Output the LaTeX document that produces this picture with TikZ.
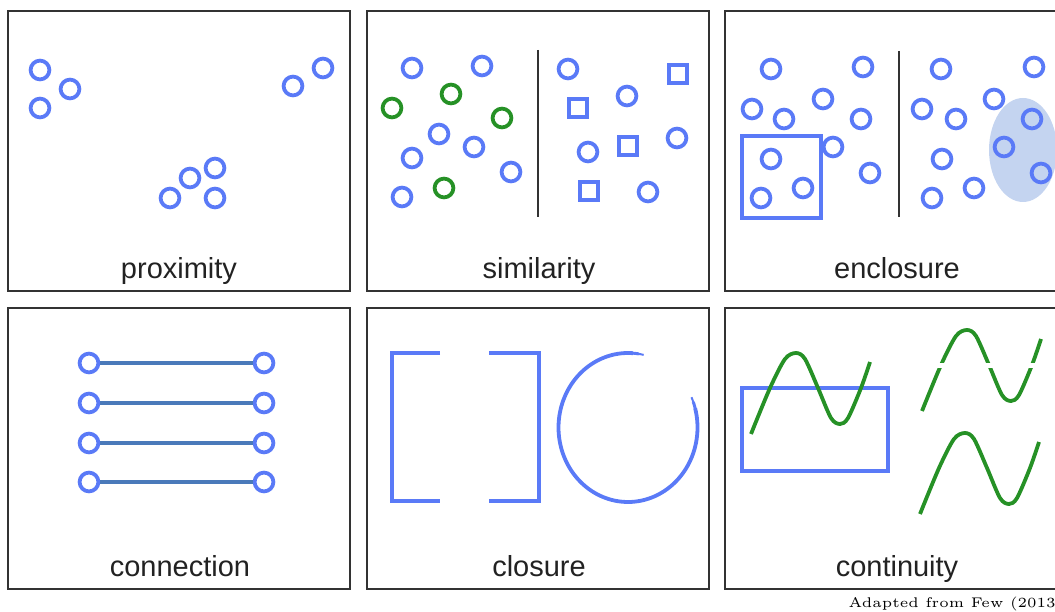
\documentclass[tikz,border=0pt]{standalone}
\usepackage{fontspec}
\newfontfamily\labelfont{Liberation Sans}
\definecolor{dotblue}{RGB}{90,122,247}
\definecolor{dotgreen}{RGB}{38,145,38}
\definecolor{linkblue}{RGB}{74,122,186}
\definecolor{blobblue}{RGB}{196,212,240}
\definecolor{framegray}{RGB}{51,51,51}
\definecolor{textgray}{RGB}{34,34,34}
\begin{document}
\begin{tikzpicture}[x=1pt,y=-1pt,
  dot/.style={circle, draw=dotblue, line width=3.8pt, minimum size=18.8pt, inner sep=0pt},
  gdot/.style={dot, draw=dotgreen},
  sq/.style={rectangle, draw=dotblue, line width=3.8pt, minimum size=17.8pt, inner sep=0pt},
  frame/.style={draw=framegray, line width=1.3pt},
  divider/.style={draw=framegray, line width=1.8pt},
  lbl/.style={font=\labelfont\fontsize{29}{34}\selectfont, text=textgray, anchor=base, inner sep=0pt},
  link/.style={draw=linkblue, line width=4pt},
  blueline/.style={draw=dotblue, line width=3.8pt},
  waveline/.style={draw=dotgreen, line width=3.8pt},
  wave/.pic={\draw[waveline] plot[smooth, tension=0.5] coordinates {(0,0) (19,-46) (34,-75) (45,-81) (54,-75) (67,-46) (80,-16) (89,-10) (97,-16) (110,-46) (119,-72)};}
]
\useasboundingbox (0,0) rectangle (1055,612);
\clip (0,0) rectangle (1055,612);

% frames
\draw[frame] (8,11) rectangle (350,291);
\draw[frame] (367,11) rectangle (709,291);
\draw[frame] (725,11) rectangle (1067,291);
\draw[frame] (8,308) rectangle (350,589);
\draw[frame] (367,308) rectangle (709,589);
\draw[frame] (725,308) rectangle (1067,589);

% labels
\node[lbl] (lprox) at (179,279) {proximity};
\node[lbl] (lsim) at (539,279) {similarity};
\node[lbl] (lenc) at (897,279) {enclosure};
\node[lbl] (lcon) at (180,576) {connection};
\node[lbl] (lclo) at (539,576) {closure};
\node[lbl] (lcnt) at (897,576) {continuity};

% proximity
\node[dot] (p1) at (40,70) {};
\node[dot] (p2) at (70,89) {};
\node[dot] (p3) at (40,108) {};
\node[dot] (p4) at (293,86) {};
\node[dot] (p5) at (323,68) {};
\node[dot] (p6) at (215,168) {};
\node[dot] (p7) at (190,178) {};
\node[dot] (p8) at (170,198) {};
\node[dot] (p9) at (215,198) {};

% similarity
\node[dot] (s1) at (412,68) {};
\node[dot] (s2) at (482,66) {};
\node[dot] (s3) at (439,134) {};
\node[dot] (s4) at (474,147) {};
\node[dot] (s5) at (412,158) {};
\node[dot] (s6) at (511,172) {};
\node[dot] (s7) at (402,197) {};
\node[gdot] (g1) at (451,94) {};
\node[gdot] (g2) at (392,108) {};
\node[gdot] (g3) at (502,118) {};
\node[gdot] (g4) at (444,188) {};
\draw[divider] (538,50) -- (538,217);
\node[dot] (s8) at (568,69) {};
\node[dot] (s9) at (627,96) {};
\node[dot] (s10) at (588,152) {};
\node[dot] (s11) at (677,138) {};
\node[dot] (s12) at (648,192) {};
\node[sq] (q1) at (678,74) {};
\node[sq] (q2) at (578,108) {};
\node[sq] (q3) at (628,146) {};
\node[sq] (q4) at (589,191) {};

% enclosure
\fill[blobblue] (1023,150) ellipse [x radius=34pt, y radius=52pt];
\node[dot] (e1) at (771,69) {};
\node[dot] (e2) at (863,67) {};
\node[dot] (e3) at (752,109) {};
\node[dot] (e4) at (784,119) {};
\node[dot] (e5) at (823,99) {};
\node[dot] (e6) at (861,119) {};
\node[dot] (e7) at (833,147) {};
\node[dot] (e8) at (870,173) {};
\node[dot] (e9) at (771,159) {};
\node[dot] (e10) at (803,188) {};
\node[dot] (e11) at (761,198) {};
\draw[blueline] (742,136) rectangle (821,218);
\draw[divider] (899,51) -- (899,217);
\node[dot] (f1) at (941,69) {};
\node[dot] (f2) at (1034,67) {};
\node[dot] (f3) at (922,109) {};
\node[dot] (f4) at (956,119) {};
\node[dot] (f5) at (994,99) {};
\node[dot] (f6) at (1032,119) {};
\node[dot] (f7) at (1004,147) {};
\node[dot] (f8) at (1041,173) {};
\node[dot] (f9) at (942,159) {};
\node[dot] (f10) at (974,188) {};
\node[dot] (f11) at (932,198) {};

% connection
\node[dot] (ca1) at (89,363) {};
\node[dot] (cb1) at (264,363) {};
\node[dot] (ca2) at (89,403) {};
\node[dot] (cb2) at (264,403) {};
\node[dot] (ca3) at (89,443) {};
\node[dot] (cb3) at (264,443) {};
\node[dot] (ca4) at (89,482) {};
\node[dot] (cb4) at (264,482) {};
\draw[link] (ca1) -- (cb1);
\draw[link] (ca2) -- (cb2);
\draw[link] (ca3) -- (cb3);
\draw[link] (ca4) -- (cb4);

% closure
\draw[blueline] (440,353) -- (392,353) -- (392,501) -- (440,501);
\draw[blueline] (489,353) -- (539,353) -- (539,501) -- (489,501);
\draw[blueline] plot[domain=86:375, samples=120, smooth] ({628+69.5*cos(\x)}, {427.5-74.5*sin(\x)});
\draw[blueline, line width=3pt] plot[domain=81:86.5, samples=6, smooth] ({628+69.5*cos(\x)}, {427.5-74.5*sin(\x)});
\draw[blueline, line width=2pt] plot[domain=77:81.5, samples=5, smooth] ({628+69.5*cos(\x)}, {427.5-74.5*sin(\x)});
\draw[blueline, line width=3pt] plot[domain=374.5:380, samples=6, smooth] ({628+69.5*cos(\x)}, {427.5-74.5*sin(\x)});
\draw[blueline, line width=2pt] plot[domain=379.5:384, samples=5, smooth] ({628+69.5*cos(\x)}, {427.5-74.5*sin(\x)});

% continuity
\draw[blueline] (742,388) rectangle (888,471);
\pic at (751,434) {wave};
\pic at (922,411) {wave};
\draw[white, line width=5pt] (930,365) -- (1050,365);
\pic at (920,514) {wave};

% caption
\node[anchor=base west, inner sep=0pt, font=\fontsize{5}{6}\selectfont, scale=2.8] (cap) at (848,607) {Adapted from Few (2013)};
\end{tikzpicture}
\end{document}
